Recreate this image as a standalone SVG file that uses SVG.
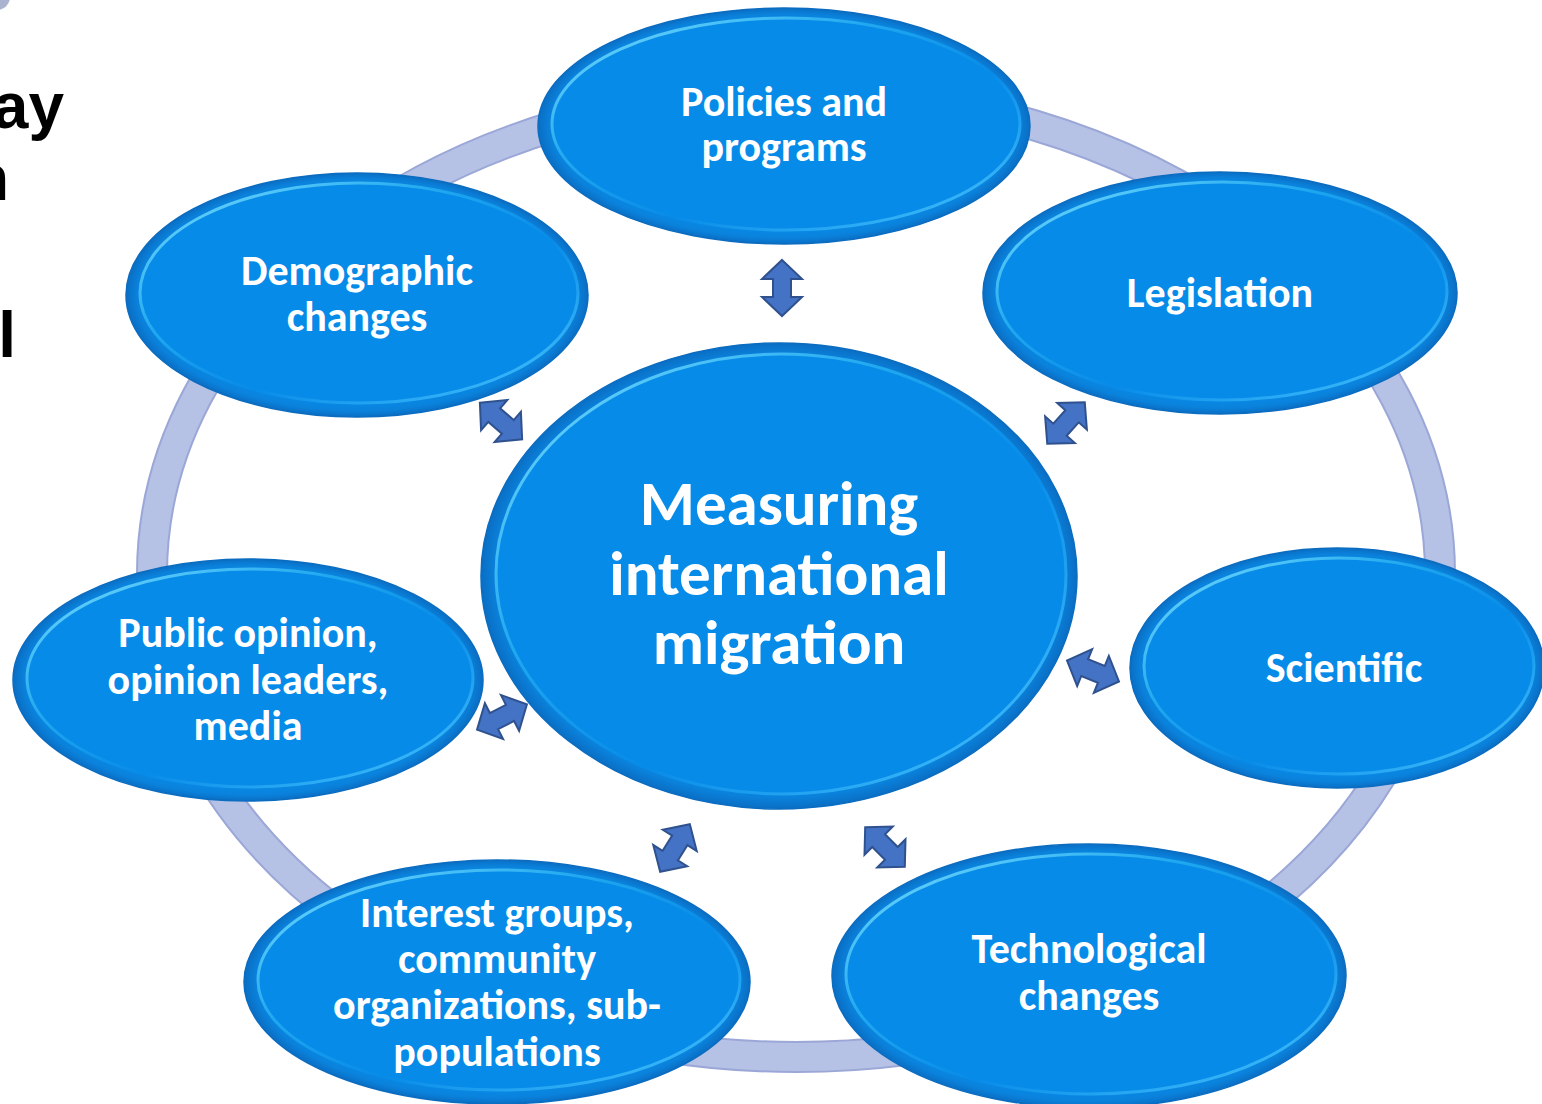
<svg xmlns="http://www.w3.org/2000/svg" width="1542" height="1104" viewBox="0 0 1542 1104">
<style>
.lbl{font-family:"Carlito","Lato","Liberation Sans",sans-serif;font-weight:bold;fill:#ffffff;text-anchor:middle}
.side{font-family:"Liberation Sans",Arial,sans-serif;font-weight:bold;fill:#000000}
.body{fill:url(#rim);stroke:#0b6cc0;stroke-width:1.5}
.hl{fill:#078be8;stroke:url(#hlg);stroke-width:3}
.arr{fill:#4472c4;stroke:#2f528f;stroke-width:2;stroke-linejoin:miter}
</style>
<defs>
<radialGradient id="rim" cx="0.5" cy="0.5" r="0.5">
<stop offset="0.86" stop-color="#078be8"/>
<stop offset="0.95" stop-color="#0a82dc"/>
<stop offset="1" stop-color="#0a6ec4"/>
</radialGradient>
<linearGradient id="hlg" x1="0" y1="0" x2="1" y2="1">
<stop offset="0" stop-color="#7ee0ff"/>
<stop offset="0.35" stop-color="#20a8f0"/>
<stop offset="0.6" stop-color="#078be8"/>
<stop offset="1" stop-color="#4cc8ff"/>
</linearGradient>
<path id="dbl" d="M0,-28 L20,-9 L9,-9 L9,9 L20,9 L0,28 L-20,9 L-9,9 L-9,-9 L-20,-9 Z"/>
</defs>
<rect width="1542" height="1104" fill="#ffffff"/>
<circle cx="-3" cy="-3" r="13" fill="#aab4d0"/>
<text class="side" x="64" y="128" font-size="64" text-anchor="end">ay</text>
<text class="side" x="9" y="200" font-size="64" text-anchor="end">n</text>
<text class="side" x="16" y="357" font-size="64" text-anchor="end">l</text>

<g id="ring">
<ellipse cx="796" cy="574" rx="644" ry="483" fill="none" stroke="#9ba7d6" stroke-width="32"/>
<ellipse cx="796" cy="574" rx="644" ry="483" fill="none" stroke="#b6c1e6" stroke-width="28"/>
</g>

<g id="connectors">
<use href="#dbl" class="arr" transform="translate(782,288)"/>
<use href="#dbl" class="arr" transform="translate(501,421) rotate(-49)"/>
<use href="#dbl" class="arr" transform="translate(1066,423) rotate(42)"/>
<use href="#dbl" class="arr" transform="translate(1093,671) rotate(112)"/>
<use href="#dbl" class="arr" transform="translate(502,717) rotate(63)"/>
<use href="#dbl" class="arr" transform="translate(675,848) rotate(32)"/>
<use href="#dbl" class="arr" transform="translate(885,847) rotate(-45)"/>
</g>

<g id="policies">
<ellipse class="body" cx="784" cy="126" rx="246" ry="118"/>
<ellipse class="hl" cx="786" cy="124" rx="234" ry="106"/>
<text class="lbl" x="784" y="116" font-size="42">Policies and</text>
<text class="lbl" x="784" y="161" font-size="42">programs</text>
</g>

<g id="demographic">
<ellipse class="body" cx="357" cy="295" rx="231" ry="122"/>
<ellipse class="hl" cx="359" cy="293" rx="219" ry="110"/>
<text class="lbl" x="357" y="285" font-size="42">Demographic</text>
<text class="lbl" x="357" y="331" font-size="42">changes</text>
</g>

<g id="legislation">
<ellipse class="body" cx="1220" cy="293" rx="237" ry="121"/>
<ellipse class="hl" cx="1222" cy="291" rx="225" ry="109"/>
<text class="lbl" x="1220" y="307" font-size="42">Legislation</text>
</g>

<g id="public">
<ellipse class="body" cx="248" cy="680" rx="235" ry="121"/>
<ellipse class="hl" cx="250" cy="678" rx="223" ry="109"/>
<text class="lbl" x="248" y="647" font-size="42">Public opinion,</text>
<text class="lbl" x="248" y="694" font-size="42">opinion leaders,</text>
<text class="lbl" x="248" y="740" font-size="42">media</text>
</g>

<g id="scientific">
<ellipse class="body" cx="1337" cy="668" rx="207" ry="120"/>
<ellipse class="hl" cx="1339" cy="666" rx="195" ry="108"/>
<text class="lbl" x="1344" y="682" font-size="42">Scientific</text>
</g>

<g id="interest">
<ellipse class="body" cx="497" cy="982" rx="253" ry="122"/>
<ellipse class="hl" cx="499" cy="980" rx="241" ry="110"/>
<text class="lbl" x="497" y="927" font-size="42">Interest groups,</text>
<text class="lbl" x="497" y="973" font-size="42">community</text>
<text class="lbl" x="497" y="1019" font-size="42">organizations, sub-</text>
<text class="lbl" x="497" y="1066" font-size="42">populations</text>
</g>

<g id="technological">
<ellipse class="body" cx="1089" cy="976" rx="257" ry="132"/>
<ellipse class="hl" cx="1091" cy="974" rx="245" ry="120"/>
<text class="lbl" x="1089" y="963" font-size="42">Technological</text>
<text class="lbl" x="1089" y="1010" font-size="42">changes</text>
</g>

<g id="center">
<ellipse class="body" cx="779" cy="576" rx="298" ry="233"/>
<ellipse class="hl" cx="781" cy="574" rx="285" ry="220"/>
<text class="lbl" x="779" y="525" font-size="63">Measuring</text>
<text class="lbl" x="779" y="595" font-size="63">international</text>
<text class="lbl" x="779" y="664" font-size="63">migration</text>
</g>
</svg>
